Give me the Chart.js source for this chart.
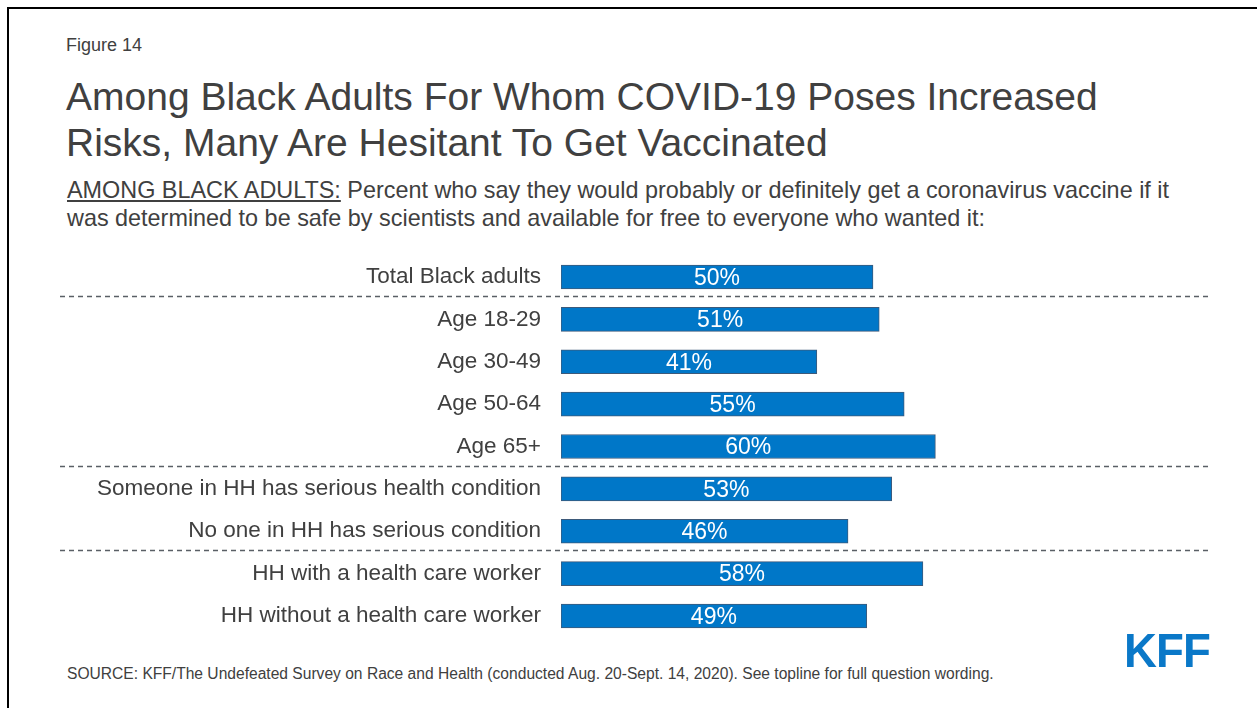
<!DOCTYPE html>
<html>
<head>
<meta charset="utf-8">
<script src="https://cdn.jsdelivr.net/npm/chart.js@4.4.0/dist/chart.umd.min.js"></script>
<style>
  html, body { margin: 0; padding: 0; background: #fff; }
  body { width: 1257px; height: 708px; position: relative; overflow: hidden;
         font-family: "Liberation Sans", Arial, sans-serif; color: #404040; }
  .frame { position: absolute; left: 7px; top: 7px; right: -10px; bottom: -10px;
           border-left: 2px solid #000; border-top: 2px solid #000; }
  .fig { position: absolute; left: 66px; top: 35px; font-size: 18px; }
  .title { position: absolute; left: 66px; top: 74px; font-size: 39px; line-height: 46px; }
  .sub { position: absolute; left: 67px; top: 176px; font-size: 23.4px; line-height: 28px; white-space: nowrap; }
  .sub u { text-decoration-thickness: 1.5px; text-underline-offset: 2px; }
  .source { position: absolute; left: 67px; top: 665px; font-size: 15.6px; }
  .logo { position: absolute; left: 1124px; top: 623px; font-size: 48px; font-weight: bold;
          color: #0a78c8; transform: scaleX(0.95); transform-origin: left top; letter-spacing: -1px; }
  #wrap { position: absolute; left: 0; top: 240px; width: 1257px; height: 410px; }
</style>
</head>
<body>
<div class="frame"></div>
<div class="fig">Figure 14</div>
<div class="title">Among Black Adults For Whom COVID-19 Poses Increased<br>Risks, Many Are Hesitant To Get Vaccinated</div>
<div class="sub"><u>AMONG BLACK ADULTS:</u> Percent who say they would probably or definitely get a coronavirus vaccine if it<br>was determined to be safe by scientists and available for free to everyone who wanted it:</div>
<div id="wrap"><canvas id="chart"></canvas></div>
<div class="source">SOURCE: KFF/The Undefeated Survey on Race and Health (conducted Aug. 20-Sept. 14, 2020). See topline for full question wording.</div>
<div class="logo">KFF</div>
<script>
const groups = [
  'Total Black adults',
  'Age 18-29',
  'Age 30-49',
  'Age 50-64',
  'Age 65+',
  'Someone in HH has serious health condition',
  'No one in HH has serious condition',
  'HH with a health care worker',
  'HH without a health care worker'
];
const wouldGetVaccine = [50, 51, 41, 55, 60, 53, 46, 58, 49];
// dashed separators go after these rows
const separatorsAfter = [0, 4, 6];

const sepPlugin = {
  id: 'separators',
  afterDatasetsDraw(chart) {
    const ctx = chart.ctx, y = chart.scales.y;
    ctx.save();
    ctx.strokeStyle = '#5a5f66';
    ctx.lineWidth = 1.3;
    ctx.setLineDash([5, 4]);
    separatorsAfter.forEach(i => {
      const yy = Math.round((y.getPixelForValue(i) + y.getPixelForValue(i + 1)) / 2) - 1.5;
      ctx.beginPath();
      ctx.moveTo(60, yy);
      ctx.lineTo(1212, yy);
      ctx.stroke();
    });
    ctx.restore();
  }
};

const valueLabels = {
  id: 'valueLabels',
  afterDatasetsDraw(chart) {
    const ctx = chart.ctx;
    const meta = chart.getDatasetMeta(0);
    ctx.save();
    ctx.fillStyle = '#fff';
    ctx.font = '23px "Liberation Sans", Arial, sans-serif';
    ctx.textAlign = 'center';
    ctx.textBaseline = 'middle';
    meta.data.forEach((bar, i) => {
      ctx.fillText(wouldGetVaccine[i] + '%', (bar.base + bar.x) / 2, bar.y + 1.5);
    });
    ctx.restore();
  }
};

new Chart(document.getElementById('chart'), {
  type: 'bar',
  data: {
    labels: groups,
    datasets: [{
      data: wouldGetVaccine,
      backgroundColor: '#0077c8',
      borderColor: '#3d5a7a',
      borderWidth: 1,
      borderSkipped: false,
      barThickness: 24
    }]
  },
  options: {
    indexAxis: 'y',
    responsive: true,
    maintainAspectRatio: false,
    animation: false,
    layout: { padding: { top: 15.8, bottom: 12.8, left: 0, right: 72 } },
    plugins: { legend: { display: false }, tooltip: { enabled: false } },
    scales: {
      x: { display: false, min: 0, max: 100 },
      y: {
        grid: { display: false },
        border: { display: false },
        afterFit(scale) {
          scale.width = 561;
          scale.paddingTop = 0;
          scale.paddingBottom = 0;
        },
        ticks: {
          color: '#404040',
          padding: 12,
          font: { size: 22.5, family: '"Liberation Sans", Arial, sans-serif' }
        }
      }
    }
  },
  plugins: [sepPlugin, valueLabels]
});
</script>
</body>
</html>
